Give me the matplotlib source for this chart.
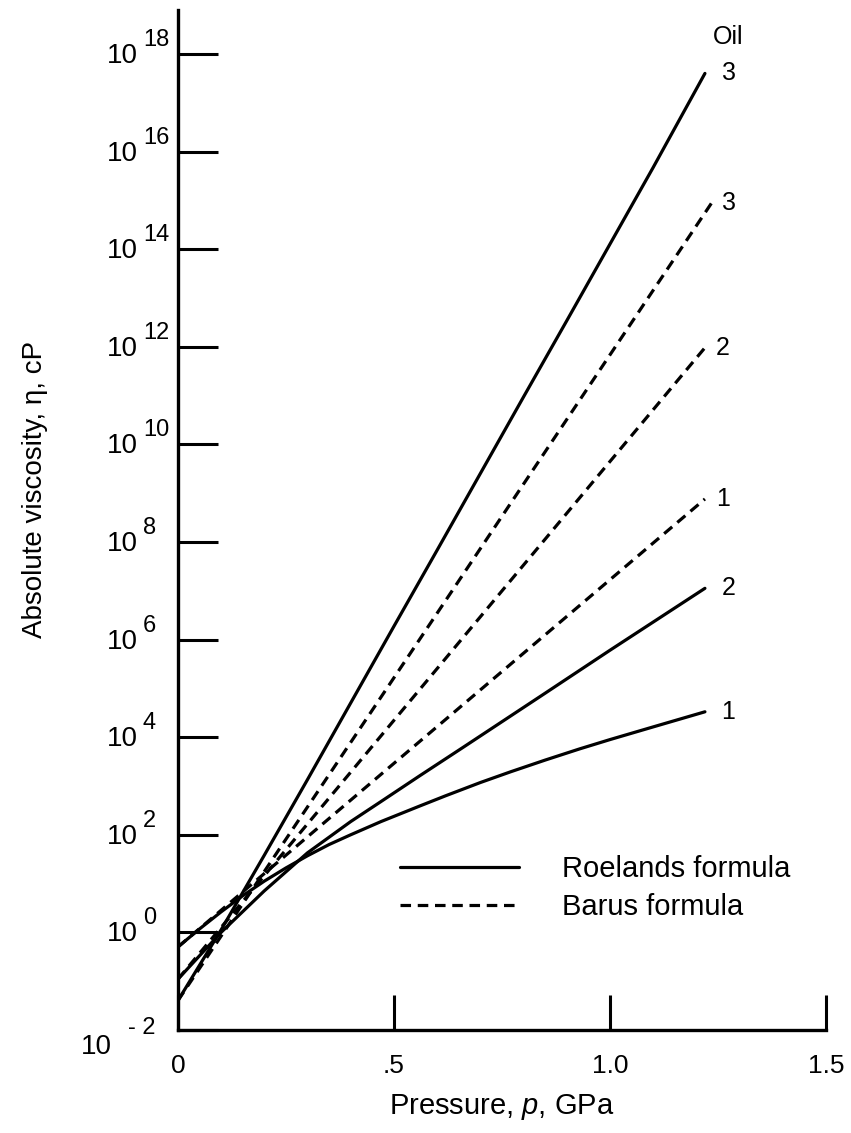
import numpy as np
import matplotlib
matplotlib.use('Agg')
import matplotlib.pyplot as plt
from matplotlib.ticker import FixedLocator, NullFormatter
from matplotlib.transforms import offset_copy

plt.rcParams['font.family'] = ['Liberation Sans', 'DejaVu Sans']
plt.rcParams['mathtext.fontset'] = 'custom'
plt.rcParams['mathtext.rm'] = 'Liberation Sans'
plt.rcParams['mathtext.it'] = 'Liberation Sans:italic'

# pressure in GPa, viscosity as log10(eta / cP)
p_roelands_1 = [0, 0.05, 0.1, 0.15, 0.2, 0.25, 0.3, 0.35, 0.4, 0.47, 0.56, 0.62,
                0.7, 0.77, 0.85, 0.93, 1.0, 1.1, 1.22]
log_eta_roelands_1 = [-0.3, 0.07, 0.42, 0.75, 1.05, 1.32, 1.57, 1.8, 2.0, 2.27, 2.59, 2.8,
                      3.07, 3.29, 3.53, 3.76, 3.95, 4.21, 4.52]

p_roelands_2 = [0, 0.1, 0.2, 0.3, 0.4, 0.47, 0.56, 0.66, 0.85, 1.0, 1.22]
log_eta_roelands_2 = [-0.96, 0.0, 0.85, 1.63, 2.27, 2.68, 3.21, 3.79, 4.9, 5.78, 7.05]

p_roelands_3 = [0, 0.1, 0.2, 0.3, 0.4, 0.5, 0.6, 0.7, 0.8, 0.9, 1.0, 1.1, 1.22]
log_eta_roelands_3 = [-1.4, 0.05, 1.58, 3.13, 4.7, 6.27, 7.83, 9.4, 10.97, 12.53, 14.1, 15.67, 17.6]

# Barus curves are straight on the log axis
p_barus_1 = [0, 1.22]
log_eta_barus_1 = [-0.3, 8.88]
p_barus_2 = [0, 1.22]
log_eta_barus_2 = [-0.96, 11.98]
p_barus_3 = [0, 1.235]
log_eta_barus_3 = [-1.4, 14.94]

oil_labels = ['1', '2', '3']
y_tick_exponents = list(range(-2, 19, 2))
x_ticks = [0, 0.5, 1.0, 1.5]
x_tick_labels = ['0', '.5', '1.0', '1.5']

LW = 2.3
DASH = (3.3, 2.1)

fig = plt.figure(figsize=(8.51, 11.33), dpi=100)
ax = fig.add_axes([0.209, 0.0909, 0.7615, 0.9003])

roelands = [(p_roelands_1, log_eta_roelands_1),
            (p_roelands_2, log_eta_roelands_2),
            (p_roelands_3, log_eta_roelands_3)]
barus = [(p_barus_1, log_eta_barus_1),
         (p_barus_2, log_eta_barus_2),
         (p_barus_3, log_eta_barus_3)]

for i, (p, le) in enumerate(roelands):
    eta = 10 ** np.array(le)
    ax.plot(p, eta, color='black', lw=LW, solid_capstyle='round', solid_joinstyle='round',
            label='Roelands formula' if i == 0 else None)
    ax.annotate(oil_labels[i], (p[-1], eta[-1]), xytext=(17, 0),
                textcoords='offset points', ha='center', va='center', fontsize=18)

for i, (p, le) in enumerate(barus):
    eta = 10 ** np.array(le)
    ax.plot(p, eta, color='black', lw=LW, linestyle=(0, DASH),
            label='Barus formula' if i == 0 else None)
    ax.annotate(oil_labels[i], (p[-1], eta[-1]), xytext=(13, 0),
                textcoords='offset points', ha='center', va='center', fontsize=18)

ax.annotate('Oil', (p_roelands_3[-1], 10 ** log_eta_roelands_3[-1]), xytext=(17, 26),
            textcoords='offset points', ha='center', va='center', fontsize=18)

ax.set_yscale('log')
ax.set_xlim(0, 1.5)
ax.set_ylim(1e-2, 10 ** 18.9)

ax.yaxis.set_major_locator(FixedLocator([10.0 ** e for e in y_tick_exponents]))
ax.yaxis.set_major_formatter(NullFormatter())
ax.yaxis.set_minor_locator(FixedLocator([]))
ax.set_xticks(x_ticks)
ax.set_xticklabels(x_tick_labels)

ax.tick_params(axis='y', direction='in', length=29, width=2.2)
ax.tick_params(axis='x', direction='in', length=25, width=2.2, pad=17, labelsize=19)

# decade labels: big "10" with a raised exponent beside it
ytrans = ax.get_yaxis_transform()
for e in y_tick_exponents:
    if e >= 0:
        base_off, sup_off, sup_text = (-40, -2), (-35, 14), str(e)
    else:
        base_off, sup_off, sup_text = (-66, -17), (-50, 2), '- ' + str(-e)
    ax.text(0, 10.0 ** e, '10', ha='right', va='center', fontsize=20,
            transform=offset_copy(ytrans, fig=fig, x=base_off[0], y=base_off[1], units='dots'))
    ax.text(0, 10.0 ** e, sup_text, ha='left', va='center', fontsize=17,
            transform=offset_copy(ytrans, fig=fig, x=sup_off[0], y=sup_off[1], units='dots'))

for side in ['top', 'right']:
    ax.spines[side].set_visible(False)
for side in ['left', 'bottom']:
    ax.spines[side].set_linewidth(2.4)

ax.set_xlabel(r'Pressure, $p$, GPa', fontsize=21, labelpad=10)
ax.set_ylabel('Absolute viscosity, η, cP', fontsize=20)
ax.yaxis.set_label_coords(-0.2, 0.53)

leg = ax.legend(loc='center left', bbox_to_anchor=(0.3426, 0.139), frameon=False,
                fontsize=21, handlelength=4.1, handletextpad=1.45, borderpad=0,
                borderaxespad=0, labelspacing=0.35)

fig.savefig('out.png', dpi=100)
